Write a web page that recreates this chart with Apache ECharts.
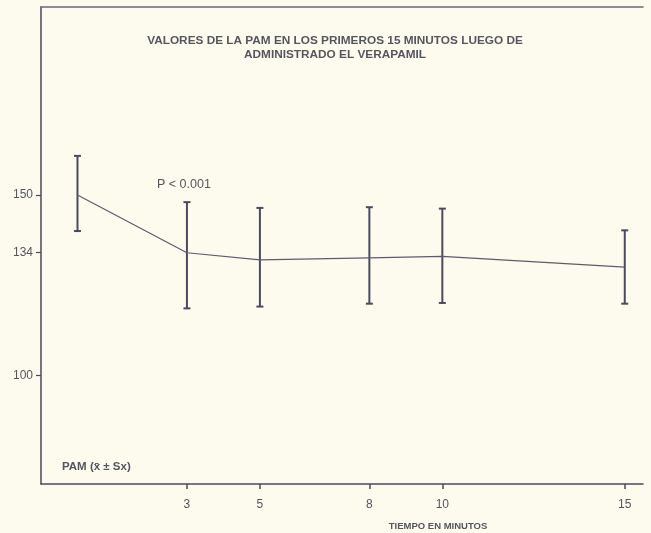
<!DOCTYPE html>
<html>
<head>
<meta charset="utf-8">
<script src="https://cdn.jsdelivr.net/npm/echarts@6/dist/echarts.min.js"></script>
<style>
html,body{margin:0;padding:0;background:#fcfbee;}
#c{width:651px;height:533px;}
</style>
</head>
<body>
<div id="c"></div>
<script>
// Data
var minutes   = [0, 3, 5, 8, 10, 15];
var meanPAM   = [150, 134, 132, 132.6, 133, 130];
var upperPAM  = [160.8, 148, 146.4, 146.6, 146.2, 140.2];
var lowerPAM  = [140, 118.6, 119.1, 119.9, 120.1, 119.9];
var xTicks    = [3, 5, 8, 10, 15];
var yTicks    = [100, 134, 150];

var titleText = 'VALORES DE LA PAM EN LOS PRIMEROS 15 MINUTOS LUEGO DE\nADMINISTRADO EL VERAPAMIL';
var xName = 'TIEMPO EN MINUTOS';
var yNote = 'PAM (x\u0304 \u00B1 Sx)';
var pNote = 'P < 0.001';

var lineData = minutes.map(function (m, i) { return [m, meanPAM[i]]; });
var errData = minutes.map(function (m, i) { return [m, lowerPAM[i], upperPAM[i]]; });

var ink = '#4a4a5e';
var txt = '#55555f';

var chart = echarts.init(document.getElementById('c'), null, {renderer: 'canvas'});
chart.setOption({
  backgroundColor: '#fcfbee',
  animation: false,
  title: [
    {text: titleText, left: 330, top: 29, textAlign: 'center',
     textStyle: {fontFamily: 'Liberation Sans', fontSize: 11.8, fontWeight: 'bold', color: txt, lineHeight: 14}},
    {text: xName, left: 433, top: 516, textAlign: 'center',
     textStyle: {fontFamily: 'Liberation Sans', fontSize: 9.5, fontWeight: 'bold', color: txt}},
    {text: yNote, left: 57, top: 456,
     textStyle: {fontFamily: 'Liberation Sans', fontSize: 11.5, fontWeight: 'bold', color: txt}},
    {text: pNote, left: 152, top: 173,
     textStyle: {fontFamily: 'Liberation Sans', fontSize: 12.5, fontWeight: 'normal', color: txt}}
  ],
  grid: {left: 41, top: 7, width: 602, height: 477, containLabel: false},
  xAxis: [{
    type: 'value', min: -1, max: 15.5, position: 'bottom',
    axisLine: {show: true, onZero: false, lineStyle: {color: ink, width: 1.5}},
    axisTick: {show: true, customValues: xTicks, length: 5, lineStyle: {color: ink, width: 1.5}},
    axisLabel: {show: true, customValues: xTicks, margin: 15, fontFamily: 'Liberation Sans', fontSize: 12, color: txt},
    splitLine: {show: false}
  }, {
    type: 'value', min: -1, max: 15.5, position: 'top',
    axisLine: {show: true, onZero: false, lineStyle: {color: '#6a6a78', width: 1.5}},
    axisTick: {show: false}, axisLabel: {show: false}, splitLine: {show: false}
  }],
  yAxis: {
    type: 'value', min: 70, max: 202,
    axisLine: {show: true, onZero: false, lineStyle: {color: ink, width: 1.5}},
    axisTick: {show: true, customValues: yTicks, length: 5, lineStyle: {color: ink, width: 1.2}},
    axisLabel: {show: true, customValues: yTicks, margin: 8, fontFamily: 'Liberation Sans', fontSize: 12, color: txt},
    splitLine: {show: false}
  },
  series: [{
    type: 'line', data: lineData, symbol: 'none',
    lineStyle: {color: '#5c5c6e', width: 1.2}
  }, {
    type: 'custom', data: errData,
    renderItem: function (params, api) {
      var x = api.value(0);
      var lo = api.coord([x, api.value(1)]);
      var hi = api.coord([x, api.value(2)]);
      var cap = 3.5;
      var st = {stroke: ink, lineWidth: 2};
      return {type: 'group', children: [
        {type: 'line', shape: {x1: lo[0], y1: lo[1], x2: hi[0], y2: hi[1]}, style: st},
        {type: 'line', shape: {x1: lo[0] - cap, y1: lo[1], x2: lo[0] + cap, y2: lo[1]}, style: st},
        {type: 'line', shape: {x1: hi[0] - cap, y1: hi[1], x2: hi[0] + cap, y2: hi[1]}, style: st}
      ]};
    },
    encode: {x: 0, y: [1, 2]}
  }]
});
</script>
</body>
</html>
